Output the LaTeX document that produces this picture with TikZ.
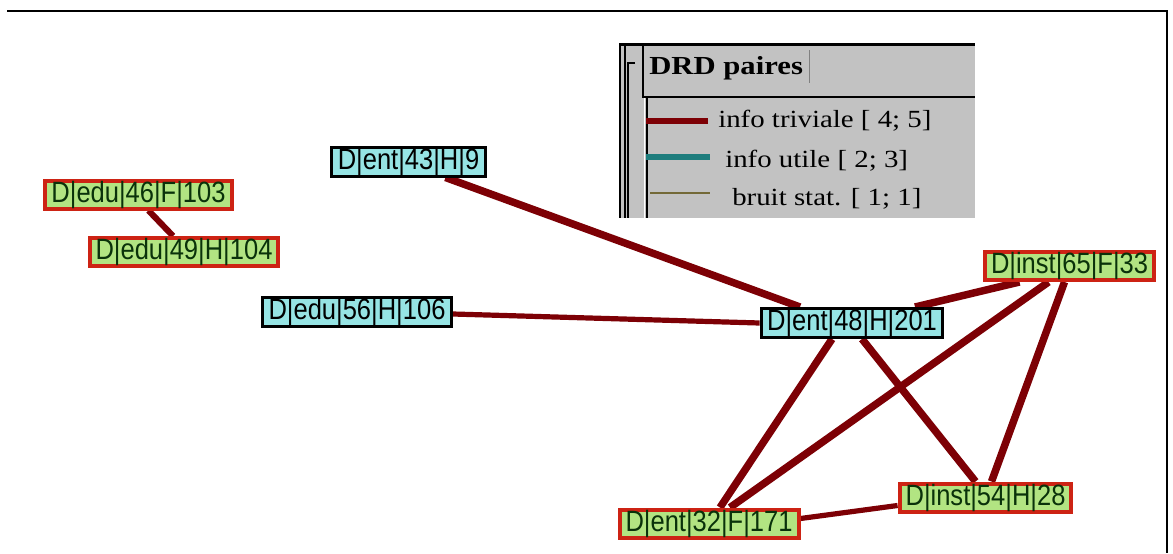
\documentclass[tikz,border=0pt]{standalone}
\usepackage{fontspec}
\setmainfont{Liberation Serif}
\newfontfamily\nodefont[FakeStretch=0.87]{Liberation Sans}
\newfontfamily\legendfont[FakeStretch=1.17]{Liberation Serif}
\usetikzlibrary{calc,backgrounds}

\definecolor{linkred}{RGB}{125,0,5}
\definecolor{cyanfill}{RGB}{150,228,228}
\definecolor{greenfill}{RGB}{178,228,130}
\definecolor{boxred}{RGB}{205,35,20}
\definecolor{greentext}{RGB}{10,50,10}
\definecolor{panelgray}{RGB}{194,194,194}
\definecolor{tealline}{RGB}{30,125,125}
\definecolor{oliveline}{RGB}{115,105,55}

\begin{document}
\begin{tikzpicture}[x=0.75pt,y=-0.75pt,
  box/.style={rectangle, inner xsep=4.5pt, inner ysep=0pt,
    font=\nodefont\fontsize{22}{24}\selectfont},
  cnode/.style={box, fill=cyanfill, draw=black, line width=2.25pt,
    minimum height=21.75pt, text=black},
  gnode/.style={box, fill=greenfill, draw=boxred, line width=3pt,
    minimum height=21pt, text=greentext},
  link/.style={draw=linkred, line width=5.6pt},
  midlink/.style={draw=linkred, line width=4.6pt},
  thinlink/.style={draw=linkred, line width=3.9pt},
  legtext/.style={anchor=base west, inner sep=0pt,
    font=\legendfont\fontsize{18.5}{21}\selectfont},
  frame/.style={draw=black, line width=1.6pt}
]
\useasboundingbox (0,0) rectangle (1173,553);

% nodes of the graph
\node[cnode] (n43) at (408.5,161.5) {D|ent|43|H|9};
\node[gnode] (n46) at (138.5,194.5) {D|edu|46|F|103};
\node[gnode] (n49) at (184,252)     {D|edu|49|H|104};
\node[cnode] (n56) at (357,312)     {D|edu|56|H|106};
\node[cnode] (n48) at (852,323)     {D|ent|48|H|201};
\node[gnode] (n65) at (1069.5,266)  {D|inst|65|F|33};
\node[gnode] (n54) at (985.5,497.5) {D|inst|54|H|28};
\node[gnode] (n32) at (709,523.5)   {D|ent|32|F|171};

% links, kept under the boxes
\begin{pgfonlayer}{background}
  \fill[white] (0,0) rectangle (1173,553);
  \draw[midlink]  ($(n46.south)+(10,0)$) -- ($(n49.north)+(-11,0)$);
  \draw[link]     ($(n43.south)+(37,0)$) -- ($(n48.north)+(-52,0)$);
  \draw[thinlink] ($(n56.east)+(0,2)$)   -- ($(n48.west)+(0,0)$);
  \draw[link]     ($(n48.north)+(63,0)$) -- ($(n65.south)+(-50,0)$);
  \draw[link]     ($(n48.south)+(-20,0)$) -- ($(n32.north)+(11,0)$);
  \draw[link]     ($(n48.south)+(10,0)$) -- ($(n54.north)+(-10,0)$);
  \draw[link]     ($(n65.south)+(-21,0)$) -- ($(n32.north)+(21,0)$);
  \draw[link]     ($(n65.south)+(-5,0)$) -- ($(n54.north)+(6,0)$);
  \draw[thinlink] ($(n32.east)+(0,-5)$)  -- ($(n54.west)+(0,8)$);
\end{pgfonlayer}

% window frame
\draw[frame] (7,11) -- (1167,11) -- (1167,553);

% legend panel
\fill[panelgray] (619,43) rectangle (975,218);
\draw[black, line width=1.8pt] (619,44.5) -- (975,44.5);
\draw[black, line width=1.6pt] (620,44) -- (620,218);
\draw[black, line width=0.9pt] (625,44) -- (625,218);
\draw[black, line width=1.1pt] (635,63) -- (628,63) -- (628,218);
\draw[black, line width=1.1pt] (643,45) -- (643,97) -- (975,97);
\draw[white, line width=1.1pt] (644.5,98) -- (644.5,218);
\draw[black, line width=1.1pt] (647,97) -- (647,218);
\draw[gray, line width=0.7pt] (809,50) -- (809,83);

\node[anchor=west, inner sep=0pt, font=\bfseries\fontsize{19.5}{22}\selectfont]
  (legtitle) at (649,68) {\scalebox{1.18}[1]{DRD paires}};

\coordinate (la1) at (646,121);
\coordinate (lb1) at (708,121);
\coordinate (la2) at (646,157);
\coordinate (lb2) at (710,157);
\coordinate (la3) at (650,193);
\coordinate (lb3) at (710,193);
\draw[linkred, line width=3.8pt] (la1) -- (lb1);
\draw[tealline, line width=3.8pt] (la2) -- (lb2);
\draw[oliveline, line width=1.1pt] (la3) -- (lb3);

\node[legtext] (lt1) at (718,127) {info triviale [ 4; 5]};
\node[legtext] (lt2) at (725,167) {info utile [ 2; 3]};
\node[legtext] (lt3) at (732,205) {bruit stat. [ 1; 1]};
\end{tikzpicture}
\end{document}
